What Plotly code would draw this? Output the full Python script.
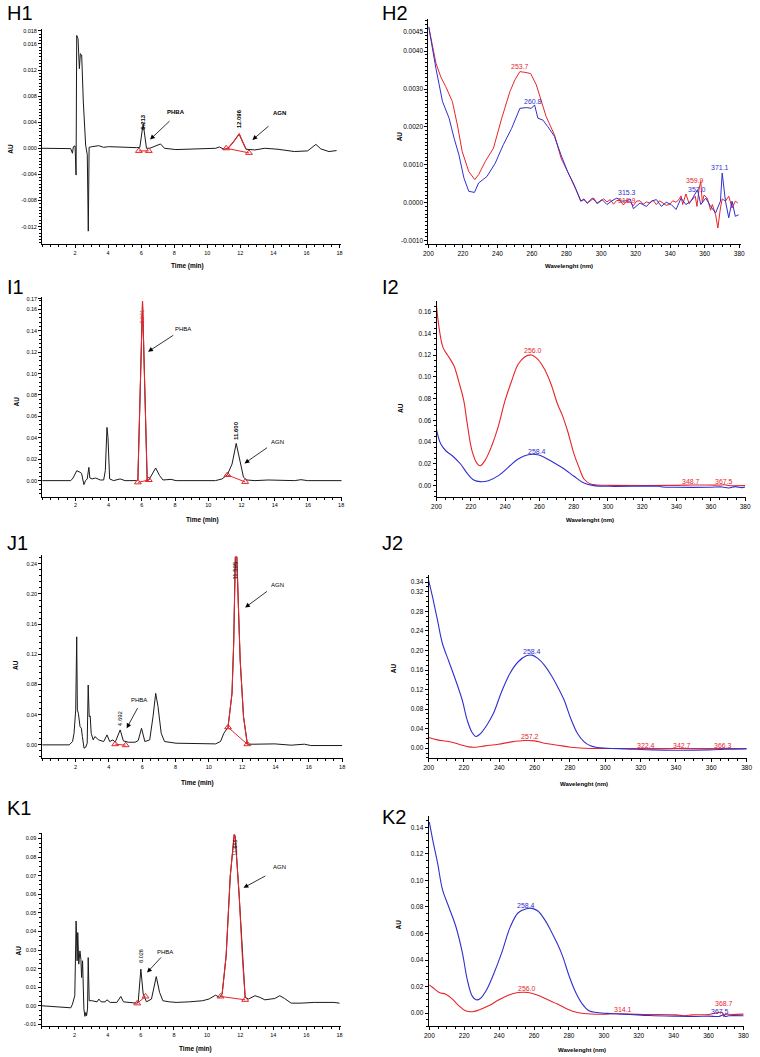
import plotly.graph_objects as go

W, H = 760, 1057
FONT = "Arial, Liberation Sans, sans-serif"
BLACK = "#1a1a1a"
RED = "#e8242a"
BLUE = "#2f2fd0"

# ---------------- data: chromatograms (time in min, AU) ----------------
H1_time = [0.0, 1.74, 1.84, 1.9, 2.0, 2.06, 2.1, 2.18, 2.26, 2.32, 2.4, 2.5, 2.64, 2.74, 2.8, 2.85, 3.03, 3.43, 3.73, 4.03,
           5.72, 5.92, 6.12, 6.32, 6.52, 6.9, 7.17, 7.41, 8.1, 10.5, 10.74, 11.0, 11.25, 11.59, 11.93, 12.13, 12.35, 12.88,
           13.48, 14.28, 15.27, 16.07, 16.57, 16.87, 17.36, 17.82]
H1_au = [0, -0.00005, -0.00076, 0.00025, 0.00036, -0.0041, 0.0173, 0.0168, 0.0122, 0.0145, 0.0143, 0.0071, 0.0005, -0.001,
         -0.0127, 0.00015, 0.00025, 0.0004, 0.00015, 0.00025, 0.0001, 0.00015, 0.0038, 0, 0, 0.0004, 0.00066, 0, -0.0002, 0,
         0.0002, -0.00015, 0, 0.001, 0.0022, 0.001, -0.00015, -0.00025, 0, -0.00015, -0.0005, -0.0004, 0.0006, -0.0001,
         -0.0005, -0.00035]
H1_phba_tri_t = [5.86, 6.46]
H1_phba_tri_au = [-0.0004, -0.0004]
H1_agn_tri_t = [11.14, 12.52]
H1_agn_tri_au = [0.0, -0.0007]

I1_time = [0, 1.72, 1.86, 2.08, 2.28, 2.37, 2.51, 2.61, 2.71, 2.81, 2.87, 3.01, 3.21, 3.5, 3.7, 3.8, 3.9, 3.96, 4.06, 4.3,
           4.69, 4.99, 5.68, 5.76, 5.9, 6.04, 6.18, 6.32, 6.42, 6.57, 6.83, 7.07, 7.27, 7.76, 8.06, 10.43, 10.83, 11.15,
           11.43, 11.68, 11.92, 12.12, 12.32, 12.81, 13.6, 15.19, 15.58, 15.98, 18.06]
I1_au = [0, 0, 0.0025, 0.0093, 0.0078, 0.0068, -0.0037, 0, 0.0016, 0.0124, 0.0025, 0.0016, 0.0025, 0.0006, 0.0006, 0.0093,
         0.0497, 0.0404, 0.0016, 0, 0.0016, 0, 0, 0.0006, 0.0839, 0.1677, 0.0839, 0.0006, 0.0006, 0.0047, 0.0118, 0.0047,
         0.0006, 0.0012, 0, 0, 0.0016, 0.0056, 0.0155, 0.0348, 0.0155, 0.0031, 0.0006, 0, 0.0006, 0, 0.0009, 0, 0]
I1_phba_tri_t = [5.76, 6.42]
I1_phba_tri_au = [-0.0016, 0.0006]
I1_agn_tri_t = [11.15, 12.22]
I1_agn_tri_au = [0.0053, -0.0012]

J1_time = [0, 1.62, 1.82, 1.91, 2.01, 2.07, 2.11, 2.17, 2.27, 2.35, 2.41, 2.51, 2.61, 2.7, 2.76, 2.82, 2.88, 2.94, 3.06,
           3.16, 3.39, 3.69, 3.89, 4.05, 4.24, 4.38, 4.68, 4.87, 5.17, 5.57, 5.76, 5.96, 6.16, 6.45, 6.65, 6.81, 6.95, 7.14,
           7.34, 7.64, 8.03, 10.4, 10.7, 10.9, 11.15, 11.39, 11.49, 11.59, 11.68, 11.78, 11.88, 12.08, 12.31, 12.77, 13.95,
           14.94, 15.53, 15.73, 16.12, 18.0]
J1_au = [0, 0, 0.0044, 0.0154, 0.0463, 0.1432, 0.0463, 0.0419, 0.0242, 0.022, 0.011, -0.0044, -0.0031, 0.0022, 0.0793,
         0.0374, 0.0383, 0.0154, 0.0066, 0.011, 0.0066, 0.0044, 0.0132, 0.0044, 0.0066, 0.0035, 0.0198, 0.0053, 0.0035,
         0.0035, 0.0057, 0.022, 0.0044, 0.0066, 0.0374, 0.0683, 0.0507, 0.0154, 0.0044, 0.0035, 0.0022, 0.0013, 0.0044,
         0.0154, 0.0233, 0.0683, 0.1344, 0.2489, 0.2489, 0.1784, 0.1123, 0.0374, 0.0009, 0.0009, 0.0013, -0.0004, 0.0004,
         0.0009, -0.0009, -0.0009]
J1_phba_tri_t = [4.38, 5.01]
J1_phba_tri_au = [0.0009, -0.0004]
J1_agn_tri_t = [11.15, 12.31]
J1_agn_tri_au = [0.0233, 0.0009]

K1_time = [0, 1.77, 1.87, 2.01, 2.09, 2.15, 2.19, 2.25, 2.32, 2.38, 2.42, 2.48, 2.56, 2.62, 2.68, 2.72, 2.78, 2.82, 2.88,
           3.06, 3.36, 3.46, 3.6, 3.85, 3.95, 4.15, 4.55, 4.79, 4.95, 5.34, 5.74, 5.84, 6.0, 6.14, 6.34, 6.64, 6.93, 7.13,
           7.33, 7.73, 8.13, 8.92, 9.72, 10.11, 10.51, 10.75, 10.91, 11.15, 11.4, 11.64, 11.7, 11.94, 12.14, 12.3, 12.5,
           12.89, 13.19, 13.49, 14.09, 14.39, 14.68, 15.08, 15.68, 16.47, 17.66, 18.0]
K1_au = [0, -0.0011, 0.0009, 0.0054, 0.0456, 0.0242, 0.0394, 0.0224, 0.0295, 0.025, 0.0152, 0.0242, -0.0018, -0.0057,
         -0.0036, -0.0054, -0.0018, 0.0259, 0.0027, 0.0027, 0.0021, 0.0036, 0.0021, 0.0021, 0.0032, 0.0018, 0.0018, 0.005,
         0.0021, 0.0018, 0.0014, 0.0021, 0.0197, 0.0063, 0.0021, 0.0036, 0.0157, 0.0072, 0.0027, 0.0021, 0.0018, 0.0021,
         0.0027, 0.0036, 0.0057, 0.0045, 0.0063, 0.0268, 0.0698, 0.0921, 0.0912, 0.059, 0.025, 0.0045, 0.0036, 0.0054,
         0.0045, 0.0032, 0.0039, 0.0054, 0.0039, 0.0014, 0.0014, 0.0018, 0.0018, 0.0014]
K1_phba_tri_t = [5.78, 6.28]
K1_phba_tri_au = [0.0013, 0.005]
K1_agn_tri_t = [10.81, 12.3]
K1_agn_tri_au = [0.005, 0.0032]

# ---------------- data: UV spectra (wavelength nm, AU) ----------------
H2_red_nm = [200.2, 204.4, 207.2, 210.1, 213.9, 216.8, 219.6, 223.4, 226.9, 229.1, 233.0, 237.7, 242.5, 247.2, 250.1,
             253.0, 255.8, 259.2, 262.5, 265.3, 268.2, 273.0, 276.8, 280.6, 284.4, 287.2, 288.2, 290.1, 291.9, 293.9,
             295.8, 297.7, 299.6, 301.5, 303.4, 305.3, 307.2, 309.1, 311.0, 312.9, 314.8, 316.8, 318.7, 320.6, 322.5,
             324.4, 326.3, 328.2, 330.1, 332.0, 333.9, 335.8, 337.7, 339.6, 341.5, 343.4, 345.3, 346.3, 347.2, 349.1,
             351.0, 352.0, 354.5, 355.5, 356.8, 357.7, 358.6, 359.6, 361.5, 363.4, 364.4, 366.3, 367.6, 369.1, 370.1,
             372.0, 373.9, 375.8, 377.7, 379.2]
H2_red_au = [0.00464, 0.00368, 0.00332, 0.00306, 0.00267, 0.00205, 0.00135, 0.00082, 0.00061, 0.00074, 0.00109, 0.00144,
             0.00223, 0.00293, 0.00324, 0.00346, 0.00344, 0.00341, 0.00311, 0.00267, 0.00227, 0.00179, 0.00118, 0.00082,
             0.00047, 0.00017, 0.00004, 0.0001, -0.00002, 0.00006, 0.00012, -0.00003, 0.00004, 0.0001, 0.00002, 0.00008,
             -0.00004, 0.00006, 0.00005, -0.00006, 0.00003, 0.00001, -0.00008, 0.00004, 0.00005, -0.00004, 0.00002,
             -0.00001, 0.00006, -0.00005, 0.00005, 0.0, -0.00007, -0.00005, 0.00005, 0.00001, 0.0001, 0.00018, -0.00005,
             0.00023, -0.00003, 0.00004, 0.00017, -0.0001, 0.00039, 0.00056, 0.0, 0.0002, 0.00012, -0.0002, -0.00005,
             -0.00032, -0.00067, -0.00014, 0.0001, 0.00004, 0.00017, -0.00014, 0.00004, -0.00001]
H2_blue_nm = [200.2, 204.4, 208.2, 212.0, 214.9, 217.7, 220.6, 223.4, 226.7, 229.1, 233.9, 238.7, 243.4, 248.2, 253.0,
              256.8, 259.6, 261.5, 263.4, 266.3, 269.1, 273.0, 276.8, 280.6, 284.4, 286.3, 288.2, 290.1, 292.0, 294.9,
              297.7, 300.6, 303.4, 306.3, 309.1, 312.0, 314.9, 316.8, 318.7, 322.5, 326.3, 329.1, 332.0, 334.9, 337.7,
              340.6, 343.4, 346.3, 349.1, 352.0, 353.9, 355.8, 357.7, 360.6, 363.4, 366.3, 369.1, 370.1, 372.0, 373.9,
              375.8, 377.7, 379.6]
H2_blue_au = [0.00464, 0.00354, 0.00267, 0.00223, 0.0017, 0.00126, 0.00065, 0.0003, 0.00027, 0.00052, 0.00069, 0.00104,
              0.00153, 0.00196, 0.00249, 0.00251, 0.00249, 0.00258, 0.00223, 0.00218, 0.00201, 0.00175, 0.00126, 0.00082,
              0.00047, 0.00025, 0.00004, 0.00008, -0.00001, 0.00012, -0.00001, 0.00008, -0.00005, 0.00005, 0.00012,
              0.00004, 0.00005, 0.0001, -0.00016, -0.00001, -0.0001, 0.00004, 0.00008, -0.0001, 0.00001, -0.00005,
              -0.00018, 0.00012, -0.00005, 0.00004, 0.00021, 0.00034, -0.00005, 0.00012, -0.0001, -0.00027, 0.00004,
              0.00078, 0.00004, -0.0004, 0.00004, -0.00036, -0.00032]

I2_red_nm = [200, 201.5, 203.8, 207.3, 210.2, 213.1, 215.9, 217.9, 220.7, 223.6, 225.5, 228.4, 232.2, 236.1, 239.9, 243.8,
             247.6, 251.4, 255.3, 259.1, 263.0, 266.8, 270.6, 273.5, 276.4, 280.2, 283.1, 286.0, 289.8, 293.7, 301.3,
             339.7, 349.3, 366.0, 368.0, 370.0, 380.0]
I2_red_au = [0.165, 0.145, 0.127, 0.118, 0.110, 0.095, 0.078, 0.057, 0.032, 0.0205, 0.0183, 0.0235, 0.0367, 0.055, 0.078,
             0.0963, 0.1116, 0.1183, 0.1202, 0.1162, 0.107, 0.0933, 0.0749, 0.0642, 0.0505, 0.029, 0.0168, 0.0061, 0.0015,
             0.0006, 0.0003, 0.0003, 0.0006, 0.0006, 0.0009, 0.0001, 0.0]
I2_blue_nm = [200, 202.5, 205.4, 209.2, 214.0, 217.9, 221.7, 225.5, 230.3, 236.1, 241.8, 247.6, 253.4, 259.1, 263.0,
              268.7, 274.5, 280.2, 286.0, 291.7, 301.3, 330.1, 332.0, 339.7, 358.9, 366.6, 370.4, 374.3, 378.1, 380.0]
I2_blue_au = [0.0514, 0.0382, 0.0321, 0.0275, 0.0199, 0.0113, 0.0052, 0.0037, 0.0046, 0.0092, 0.0168, 0.0245, 0.0284,
              0.0284, 0.026, 0.0208, 0.0153, 0.0086, 0.0024, 0.0, -0.0006, -0.0006, -0.0012, -0.0015, -0.0015, -0.0012,
              -0.0021, -0.0009, -0.0018, -0.0012]

J2_blue_nm = [200, 202.2, 205.0, 207.8, 211.5, 215.3, 219.0, 221.8, 224.6, 226.8, 229.2, 233.0, 236.7, 241.3, 246.0,
              250.7, 255.3, 258.5, 261.8, 265.5, 269.3, 273.0, 276.7, 280.4, 284.2, 287.9, 291.6, 295.3, 301.0, 312.1,
              327.0, 340.0, 358.7, 364.2, 368.0, 380.0]
J2_blue_au = [0.3435, 0.3095, 0.262, 0.2143, 0.177, 0.139, 0.0986, 0.0578, 0.032, 0.0238, 0.0293, 0.0476, 0.0714, 0.1156,
              0.153, 0.1769, 0.1891, 0.1905, 0.1837, 0.17, 0.1497, 0.1259, 0.0986, 0.0612, 0.0306, 0.0136, 0.0048, 0.0014,
              0.0, -0.0014, -0.0034, -0.0041, -0.0034, -0.0027, -0.002, -0.0014]
J2_red_nm = [200, 205.0, 211.5, 217.1, 222.7, 226.4, 232.0, 239.5, 246.9, 254.4, 260.0, 265.5, 273.0, 280.4, 287.9, 302.8,
             380.0]
J2_red_au = [0.0218, 0.017, 0.0136, 0.0082, 0.0027, 0.002, 0.0048, 0.0082, 0.0129, 0.0156, 0.015, 0.0102, 0.0061, 0.002,
             0.0, -0.0007, -0.0007]

K2_blue_nm = [200, 201.9, 204.7, 207.5, 211.3, 215.1, 218.9, 221.7, 224.5, 226.8, 229.2, 233.0, 236.8, 241.5, 246.2,
              250.9, 255.6, 258.8, 262.2, 266.0, 269.7, 273.5, 276.3, 280.1, 283.9, 287.7, 291.4, 296.1, 303.7, 315.0,
              326.3, 341.4, 352.7, 360.2, 365.9, 368.7, 369.6, 371.5, 380.0]
K2_blue_au = [0.1438, 0.1307, 0.1132, 0.0932, 0.0794, 0.0656, 0.0456, 0.0255, 0.013, 0.01, 0.011, 0.018, 0.0293, 0.0456,
              0.0644, 0.0756, 0.0786, 0.0789, 0.0769, 0.0706, 0.0619, 0.0518, 0.0431, 0.028, 0.0155, 0.0068, 0.0018,
              0.0005, -0.0003, -0.001, -0.0018, -0.0023, -0.0025, -0.0023, -0.0025, -0.0013, -0.0025, -0.002, -0.002]
K2_red_nm = [200, 201.9, 205.7, 209.4, 213.2, 217.0, 220.7, 224.5, 228.3, 233.9, 239.6, 245.2, 250.9, 256.6, 262.2, 267.9,
             273.5, 279.2, 284.8, 290.5, 299.9, 307.4, 322.5, 341.4, 346.1, 350.8, 360.2, 367.8, 368.7, 369.6, 373.4, 380.0]
K2_red_au = [0.0213, 0.0193, 0.0155, 0.0143, 0.0105, 0.0055, 0.0018, 0.001, 0.0023, 0.0055, 0.0098, 0.0135, 0.0155, 0.0155,
             0.0135, 0.01, 0.0068, 0.003, 0.0005, -0.0005, -0.0008, -0.0005, -0.001, -0.0013, -0.002, -0.0013, -0.001,
             0.0005, -0.0025, -0.001, -0.001, -0.0008]

# tick labels
CHROM_XTICKS = [2, 4, 6, 8, 10, 12, 14, 16, 18]
SPEC_XTICKS = [200, 220, 240, 260, 280, 300, 320, 340, 360, 380]
H1_YTICKS = [-0.012, -0.008, -0.004, 0.0, 0.004, 0.008, 0.012, 0.016, 0.018]
H2_YTICKS = [-0.001, 0.0, 0.001, 0.002, 0.003, 0.004, 0.0045]
I1_YTICKS = [0.0, 0.02, 0.04, 0.06, 0.08, 0.10, 0.12, 0.14, 0.16, 0.17]
I2_YTICKS = [0.0, 0.02, 0.04, 0.06, 0.08, 0.10, 0.12, 0.14, 0.16]
J1_YTICKS = [0.0, 0.04, 0.08, 0.12, 0.16, 0.20, 0.24]
J2_YTICKS = [0.0, 0.04, 0.08, 0.12, 0.16, 0.20, 0.24, 0.28, 0.32, 0.34]
K1_YTICKS = [-0.01, 0.0, 0.01, 0.02, 0.03, 0.04, 0.05, 0.06, 0.07, 0.08, 0.09]
K2_YTICKS = [0.0, 0.02, 0.04, 0.06, 0.08, 0.10, 0.12, 0.14]

for a, b in [(H1_time, H1_au), (I1_time, I1_au), (J1_time, J1_au), (K1_time, K1_au), (H2_red_nm, H2_red_au),
             (H2_blue_nm, H2_blue_au), (I2_red_nm, I2_red_au), (I2_blue_nm, I2_blue_au), (J2_blue_nm, J2_blue_au),
             (J2_red_nm, J2_red_au), (K2_blue_nm, K2_blue_au), (K2_red_nm, K2_red_au)]:
    assert len(a) == len(b), (len(a), len(b))

fig = go.Figure()


def fx(p):
    return p / W


def fy(p):
    return 1 - p / H


def add_axes(k, xdom, ydom, xr, yr, xt, yt, yfmt, xminor, yminor, fs):
    s = '' if k == 1 else str(k)
    common = dict(showline=True, linecolor='black', linewidth=1, ticks='outside', ticklen=3, tickwidth=1,
                  tickcolor='black', showgrid=False, zeroline=False, fixedrange=True, ticklabeloverflow='allow',
                  tickfont=dict(size=fs, family=FONT, color='black'))
    fig.update_layout(**{
        'xaxis' + s: dict(domain=[fx(xdom[0]), fx(xdom[1])], range=list(xr), anchor='y' + s,
                          tickvals=xt, ticktext=[str(v) for v in xt],
                          minor=dict(ticks='outside', ticklen=2, dtick=xminor, tickcolor='black', showgrid=False),
                          **common),
        'yaxis' + s: dict(domain=[fy(ydom[1]), fy(ydom[0])], range=list(yr), anchor='x' + s,
                          tickvals=yt, ticktext=[format(v, yfmt) for v in yt],
                          minor=dict(ticks='outside', ticklen=2, dtick=yminor, tickcolor='black', showgrid=False),
                          **common),
    })


def line(k, x, y, color, width=1.0, shape='linear'):
    s = '' if k == 1 else str(k)
    fig.add_trace(go.Scatter(x=x, y=y, mode='lines', line=dict(color=color, width=width, shape=shape),
                             xaxis='x' + s, yaxis='y' + s, showlegend=False, hoverinfo='skip'))


def tri(k, t, a):
    s = '' if k == 1 else str(k)
    fig.add_trace(go.Scatter(x=t, y=a, mode='lines+markers', line=dict(color=RED, width=1),
                             marker=dict(symbol='triangle-up-open', size=6, color=RED, line=dict(width=1)),
                             xaxis='x' + s, yaxis='y' + s, showlegend=False, hoverinfo='skip'))


def red_peak(k, t, a, tri_t):
    sel = [(ti, ai) for ti, ai in zip(t, a) if tri_t[0] <= ti <= tri_t[1]]
    line(k, [p[0] for p in sel], [p[1] for p in sel], RED, 1.1)


# ---------- axes ----------
add_axes(1, (37.5, 340), (27, 243), (0, 18.06), (-0.01472, 0.0183), CHROM_XTICKS, H1_YTICKS, '.3f', 0.5, 0.0005, 5.5)
add_axes(2, (429, 746), (17, 243), (200, 381.1), (-0.0011, 0.00485), SPEC_XTICKS, H2_YTICKS, '.4f', 5, 0.0001, 6.5)
add_axes(3, (37.7, 341), (296, 496), (0, 18.02), (-0.0149, 0.1714), CHROM_XTICKS, I1_YTICKS, '.2f', 0.5, 0.004, 5.5)
add_axes(4, (437.3, 750.5), (300, 496.7), (200, 380.3), (-0.0107, 0.1697), SPEC_XTICKS, I2_YTICKS, '.2f', 5, 0.005, 6.5)
add_axes(5, (37.7, 342), (555, 758.3), (0, 18.02), (-0.0176, 0.2511), CHROM_XTICKS, J1_YTICKS, '.2f', 0.5, 0.008, 5.5)
add_axes(6, (429.3, 752), (575, 758.3), (200, 380.3), (-0.0204, 0.3537), SPEC_XTICKS, J2_YTICKS, '.2f', 5, 0.01, 6.5)
add_axes(7, (37, 340), (833.3, 1027.3), (0, 18.06), (-0.0111, 0.093), CHROM_XTICKS, K1_YTICKS, '.2f', 0.5, 0.0025, 5.5)
add_axes(8, (429.3, 749), (816.7, 1027.3), (199.6, 380.4), (-0.01, 0.1482), SPEC_XTICKS, K2_YTICKS, '.2f', 5, 0.005, 6.5)

# ---------- chromatograms ----------
line(1, H1_time, H1_au, BLACK)
red_peak(1, H1_time, H1_au, H1_agn_tri_t)
tri(1, H1_phba_tri_t, H1_phba_tri_au)
tri(1, H1_agn_tri_t, H1_agn_tri_au)

line(3, I1_time, I1_au, BLACK)
red_peak(3, I1_time, I1_au, I1_phba_tri_t)
tri(3, I1_phba_tri_t, I1_phba_tri_au)
tri(3, I1_agn_tri_t, I1_agn_tri_au)

line(5, J1_time, J1_au, BLACK)
red_peak(5, J1_time, J1_au, J1_agn_tri_t)
tri(5, J1_phba_tri_t, J1_phba_tri_au)
tri(5, J1_agn_tri_t, J1_agn_tri_au)

line(7, K1_time, K1_au, BLACK)
red_peak(7, K1_time, K1_au, K1_agn_tri_t)
tri(7, K1_phba_tri_t, K1_phba_tri_au)
tri(7, K1_agn_tri_t, K1_agn_tri_au)

# ---------- spectra ----------
line(2, H2_red_nm, H2_red_au, RED, 1.0)
line(2, H2_blue_nm, H2_blue_au, BLUE, 1.0)
line(4, I2_red_nm, I2_red_au, RED, 1.1, 'spline')
line(4, I2_blue_nm, I2_blue_au, BLUE, 1.1, 'spline')
line(6, J2_red_nm, J2_red_au, RED, 1.1, 'spline')
line(6, J2_blue_nm, J2_blue_au, BLUE, 1.1, 'spline')
line(8, K2_red_nm, K2_red_au, RED, 1.1, 'spline')
line(8, K2_blue_nm, K2_blue_au, BLUE, 1.1, 'spline')

ann = []


def text(x, y, s, size=7, color='black', bold=False, angle=0, xanchor='center'):
    t = '<b>%s</b>' % s if bold else s
    ann.append(dict(x=fx(x), y=fy(y), xref='paper', yref='paper', text=t, showarrow=False, textangle=angle,
                    xanchor=xanchor, yanchor='middle', font=dict(size=size, family=FONT, color=color)))


def arrow(tx, ty, tailx, taily):
    ann.append(dict(x=fx(tx), y=fy(ty), xref='paper', yref='paper', text='', showarrow=True,
                    ax=tailx - tx, ay=taily - ty, arrowhead=2, arrowsize=1.2, arrowwidth=0.8,
                    arrowcolor='black', standoff=0))


# panel letters
for lab, x, y in [('H1', 0, 10.7), ('H2', 380, 10.7), ('I1', 0, 285.8), ('I2', 380, 286),
                  ('J1', 0, 542.5), ('J2', 380, 543), ('K1', 0, 808), ('K2', 380, 817)]:
    text(x, y, lab, size=20, xanchor='left')

# axis titles
for x, y, s in [(185, 265, 'Time (min)'), (200, 519.3, 'Time (min)'), (195, 783.5, 'Time (min)'),
                (193.3, 1050, 'Time (min)')]:
    text(x, y, s, size=6.5, bold=True)
for x, y, s in [(571.7, 265, 'Wavelenght (nm)'), (593.3, 519.3, 'Wavelenght (nm)'), (586.7, 784, 'Wavelenght (nm)'),
                (585, 1051, 'Wavelenght (nm)')]:
    text(x, y, s, size=6, bold=True)
for x, y in [(5.5, 146.7), (11.7, 401), (10, 665), (13.3, 951), (400, 135), (400.7, 406.7), (393.3, 668), (398.3, 925)]:
    text(x, y, 'AU', size=6.5, bold=True, angle=-90)

# chromatogram labels
text(173.3, 110, 'PHBA', size=6, bold=True)
arrow(147, 138, 168, 118)
text(277.7, 111.7, 'AGN', size=6, bold=True)
arrow(250.7, 138.3, 268.3, 123.3)
text(140, 120, '6.213', size=6, bold=True, angle=-90)
text(237.3, 117.5, '12.096', size=6, bold=True, angle=-90)

text(180, 327.7, 'PHBA', size=6)
arrow(145, 350.7, 171.7, 333.3)
text(276, 441.7, 'AGN', size=6)
arrow(242.7, 462.7, 266.7, 446)
text(139.3, 315, '6.041', size=5.5, color=RED, angle=-90)
text(234.3, 430, '11.600', size=6, bold=True, angle=-90)

text(136, 700, 'PHBA', size=6)
arrow(123.3, 728.3, 135, 706.7)
text(276, 585, 'AGN', size=6)
arrow(243.3, 607.3, 266.7, 590)
text(116.7, 718, '4.692', size=6, angle=-90)
text(233.3, 570, '11.595', size=6, angle=-90)

text(161.7, 952.3, 'PHBA', size=6)
arrow(144, 973.3, 159.3, 956.7)
text(278.3, 867.3, 'AGN', size=6)
arrow(241.7, 888.3, 265, 875.7)
text(137.7, 956.7, '6.026', size=5.5, angle=-90)
text(232.3, 848, '11.645', size=5.5, angle=-90)

# spectra labels
for x, y, s, c in [(521.7, 65, '253.7', RED), (535, 99.3, '260.8', BLUE), (630, 191, '315.3', BLUE),
                   (630, 199, '316.9', RED), (699.3, 179, '359.9', RED), (701.7, 187.7, '357.0', BLUE),
                   (725, 166, '371.1', BLUE),
                   (535, 349.3, '256.0', RED), (539, 450.3, '258.4', BLUE), (695.3, 480.7, '348.7', RED),
                   (728.7, 480.7, '367.5', RED),
                   (534, 651, '258.4', BLUE), (531.7, 737, '257.2', RED), (649.3, 745.3, '322.4', RED),
                   (685.7, 745.3, '342.7', RED), (727.7, 745.3, '366.3', RED),
                   (528.3, 905.7, '258.4', BLUE), (529, 989.3, '256.0', RED), (626.7, 1010, '314.1', RED),
                   (728.3, 1004, '368.7', RED), (725, 1012.3, '367.5', BLUE)]:
    text(x, y, s, size=7, color=c)

fig.update_layout(width=W, height=H, margin=dict(l=0, r=0, t=0, b=0), paper_bgcolor='white', plot_bgcolor='white',
                  annotations=ann, showlegend=False, font=dict(family=FONT))
fig.write_html("out.html", config={'displayModeBar': False, 'staticPlot': True},
               post_script="document.body.style.margin='0px';document.body.style.overflow='hidden';")
